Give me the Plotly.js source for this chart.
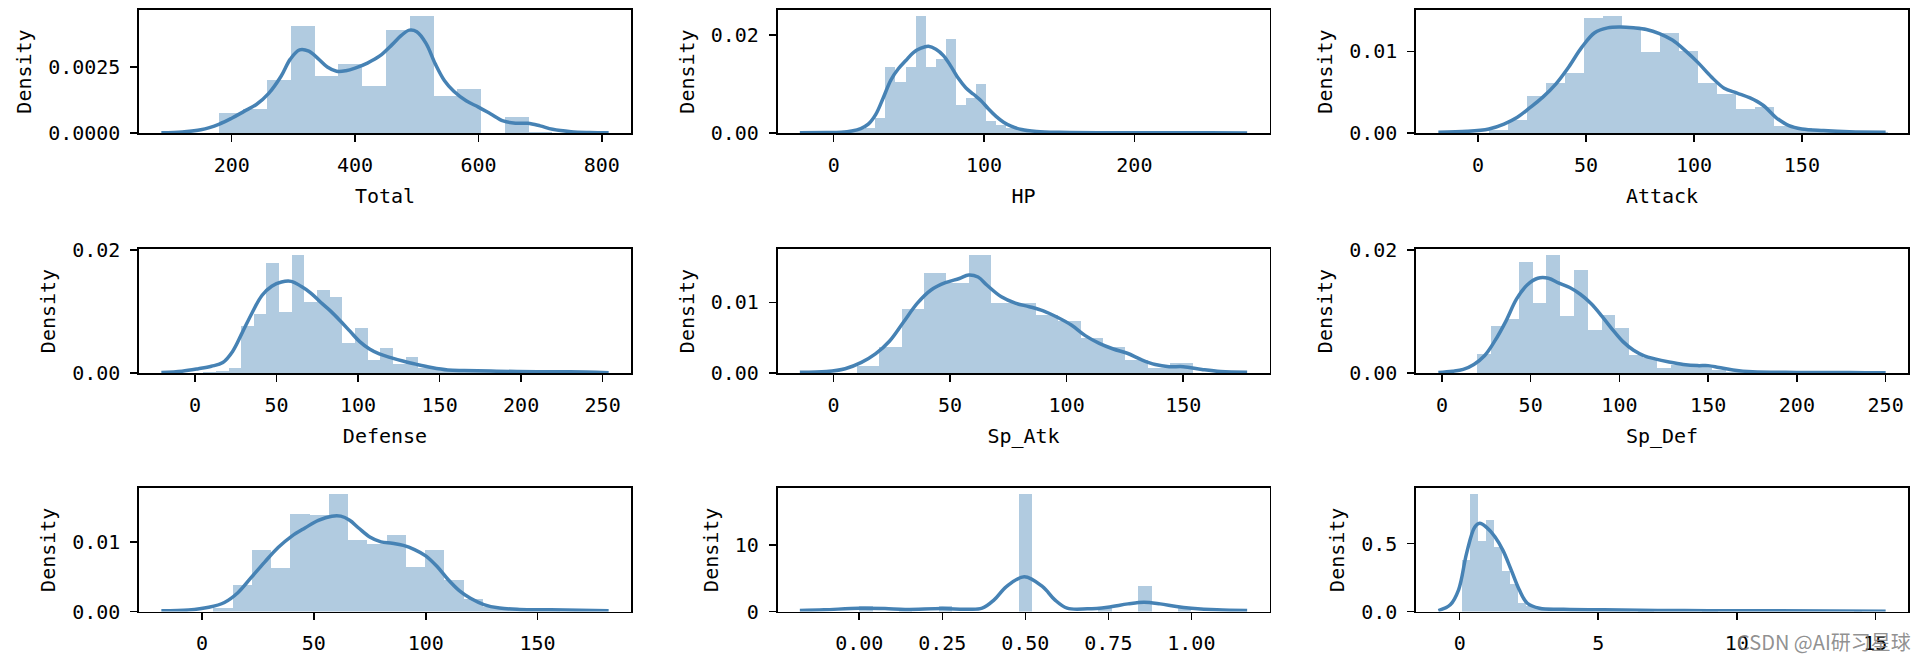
<!DOCTYPE html>
<html><head><meta charset="utf-8">
<script src="https://cdn.plot.ly/plotly-3.0.1.min.js"></script>
<style>html,body{margin:0;padding:0;background:#fff;} #chart{width:1922px;height:660px;}</style>
</head><body><div id="chart"></div>
<script>
// ---------------- data ----------------
// Total
const totalBinStart = 180, totalBinWidth = 38.571;
const totalHist = [0.00075, 0.000925, 0.0020, 0.00406, 0.00215, 0.0026, 0.0018, 0.0039, 0.00444, 0.00141, 0.00165, 0.0, 0.00061, 0.00004];
const totalKdeX = [86, 120, 150, 180, 200, 220, 240, 260, 280, 295, 310, 325, 340, 355, 370, 385, 400, 420, 440, 460, 475, 488, 500, 515, 530, 545, 560, 580, 600, 620, 640, 660, 680, 700, 720, 750, 780, 811];
const totalKdeY = [0.00001, 0.00004, 0.00012, 0.00034, 0.00056, 0.00082, 0.00108, 0.0015, 0.00215, 0.0028, 0.00315, 0.0031, 0.00282, 0.0025, 0.00234, 0.00236, 0.00246, 0.00265, 0.00292, 0.00335, 0.0037, 0.0039, 0.00384, 0.0034, 0.00262, 0.00198, 0.00158, 0.00122, 0.00098, 0.00072, 0.00046, 0.00037, 0.00037, 0.00027, 0.00014, 0.00005, 0.00002, 0.00001];
const totalXTicks = [200, 400, 600, 800];
const totalYTicks = [0, 0.0025];
const totalYText = ['0.0000', '0.0025'];

// HP
const hpBinStart = 1, hpBinWidth = 6.684;
const hpHist = [0.0002, 0.0003, 0.0008, 0.001, 0.0031, 0.01354, 0.01045, 0.01354, 0.0239, 0.01354, 0.0151, 0.0192, 0.00564, 0.00715, 0.0099, 0.0024, 0.0017, 0.001, 0.0006, 0.0004, 0.0003, 0.0002, 0.0001, 0.0001, 0, 0, 0, 0, 0, 0, 0, 0, 0, 0, 0, 0, 0, 0.0002];
const hpKdeX = [-22.5, -5, 5, 12, 18, 23, 28, 33, 38, 43, 48, 53, 58, 63, 68, 73, 78, 83, 88, 93, 98, 103, 108, 113, 118, 125, 135, 150, 180, 220, 250, 275];
const hpKdeY = [0.00003, 0.00008, 0.00015, 0.0004, 0.0009, 0.0018, 0.0038, 0.0072, 0.0108, 0.0131, 0.0148, 0.0164, 0.0173, 0.0177, 0.0171, 0.0158, 0.0136, 0.0111, 0.0092, 0.0079, 0.0066, 0.0049, 0.0034, 0.0022, 0.0014, 0.0007, 0.00032, 0.00014, 0.00005, 0.00003, 0.00005, 0.00001];
const hpXTicks = [0, 100, 200];
const hpYTicks = [0, 0.02];
const hpYText = ['0.00', '0.02'];

// Attack
const atkBinStart = 5, atkBinWidth = 8.81;
const atkHist = [0.0004, 0.0016, 0.00457, 0.00615, 0.00737, 0.0141, 0.01437, 0.013, 0.0099, 0.01223, 0.01, 0.0061, 0.0048, 0.003, 0.0032, 0.0008, 0.0006, 0.0004, 0.0002, 0.0002, 0.0001];
const atkKdeX = [-18.4, -5, 5, 12, 18, 24, 30, 36, 42, 48, 54, 60, 66, 72, 78, 84, 90, 96, 102, 108, 114, 120, 126, 132, 138, 144, 150, 160, 172, 188.8];
const atkKdeY = [0.0001, 0.0002, 0.0005, 0.0011, 0.0019, 0.0031, 0.0044, 0.006, 0.0081, 0.0105, 0.0123, 0.0129, 0.0130, 0.0129, 0.0127, 0.0122, 0.0114, 0.0101, 0.0086, 0.0069, 0.0055, 0.0049, 0.0043, 0.0034, 0.0019, 0.0009, 0.0005, 0.0003, 0.00015, 0.0001];
const atkXTicks = [0, 50, 100, 150];
const atkYTicks = [0, 0.01];
const atkYText = ['0.00', '0.01'];

// Defense
const defBinStart = 5, defBinWidth = 7.759;
const defHist = [0.0002, 0.0004, 0.0008, 0.0076, 0.00954, 0.01796, 0.00992, 0.0192, 0.01147, 0.0135, 0.01233, 0.00482, 0.00724, 0.00204, 0.00413, 0.00145, 0.00257, 0.0008, 0.0006, 0.0004, 0.0004, 0.0002, 0.0001, 0.0001, 0, 0, 0, 0, 0.0003];
const defKdeX = [-20.7, -8, 2, 10, 17, 23, 29, 35, 41, 47, 53, 59, 65, 71, 77, 83, 89, 95, 101, 107, 113, 120, 128, 136, 145, 155, 165, 185, 210, 230, 253.7];
const defKdeY = [0.0001, 0.0003, 0.0007, 0.0011, 0.0017, 0.0035, 0.0066, 0.0098, 0.0126, 0.0141, 0.0148, 0.0149, 0.0141, 0.013, 0.0115, 0.0101, 0.0085, 0.0068, 0.0051, 0.0039, 0.0031, 0.0025, 0.0019, 0.0014, 0.0009, 0.0005, 0.0004, 0.0003, 0.0002, 0.0002, 0.00005];
const defXTicks = [0, 50, 100, 150, 200, 250];
const defYTicks = [0, 0.02];
const defYText = ['0.00', '0.02'];

// Sp_Atk
const spaBinStart = 10, spaBinWidth = 9.6;
const spaHist = [0.00093, 0.0037, 0.00907, 0.01419, 0.01279, 0.01674, 0.00986, 0.00986, 0.00828, 0.00744, 0.005, 0.00363, 0.00186, 0.0007, 0.0014];
const spaKdeX = [-14.4, -3, 5, 12, 18, 24, 30, 36, 42, 48, 54, 58, 62, 66, 72, 78, 84, 90, 96, 102, 108, 114, 120, 126, 132, 138, 144, 150, 158, 166, 177.4];
const spaKdeY = [0.0001, 0.0002, 0.0006, 0.0015, 0.0027, 0.0045, 0.0072, 0.0099, 0.0118, 0.0128, 0.0134, 0.0139, 0.0136, 0.0124, 0.0108, 0.0099, 0.0094, 0.0088, 0.0079, 0.0068, 0.0053, 0.0042, 0.0034, 0.0028, 0.0019, 0.0012, 0.0009, 0.0009, 0.0005, 0.0002, 0.0001];
const spaXTicks = [0, 50, 100, 150];
const spaYTicks = [0, 0.01];
const spaYText = ['0.00', '0.01'];

// Sp_Def
const spdBinStart = 20, spdBinWidth = 7.778;
const spdHist = [0.0031, 0.0076, 0.00884, 0.018, 0.0114, 0.0192, 0.0092, 0.01672, 0.00707, 0.00943, 0.00724, 0.0029, 0.0025, 0.0008, 0.0013, 0.0011, 0.0012, 0.0005, 0.0002, 0.0001, 0.0001, 0, 0, 0, 0, 0, 0.0002];
const spdKdeX = [-2, 6, 12, 18, 24, 30, 36, 42, 48, 54, 60, 66, 72, 78, 84, 90, 96, 102, 108, 114, 120, 128, 136, 144, 150, 156, 164, 175, 200, 230, 250];
const spdKdeY = [0.0001, 0.0003, 0.0006, 0.0014, 0.0028, 0.0053, 0.0084, 0.012, 0.0143, 0.0154, 0.0154, 0.0146, 0.0139, 0.0128, 0.0113, 0.0093, 0.0071, 0.0051, 0.0037, 0.0028, 0.0023, 0.0018, 0.0014, 0.0012, 0.0012, 0.0009, 0.0005, 0.0002, 0.0001, 0.0001, 0.00003];
const spdXTicks = [0, 50, 100, 150, 200, 250];
const spdYTicks = [0, 0.02];
const spdYText = ['0.00', '0.02'];

// Speed
const speBinStart = 5, speBinWidth = 8.611;
const speHist = [0.0005, 0.0038, 0.0088, 0.0063, 0.01405, 0.0138, 0.0169, 0.01024, 0.00976, 0.01095, 0.00643, 0.0088, 0.00452, 0.00176, 0.0007, 0.0003, 0.0003, 0.0002];
const speKdeX = [-18.2, -6, 3, 10, 16, 22, 28, 34, 40, 46, 52, 58, 62, 66, 70, 75, 80, 85, 90, 95, 100, 105, 110, 115, 120, 126, 133, 142, 156, 181.8];
const speKdeY = [0.0001, 0.0002, 0.0006, 0.0013, 0.0027, 0.0049, 0.0071, 0.0092, 0.0108, 0.012, 0.0131, 0.0137, 0.0137, 0.0131, 0.0120, 0.0107, 0.0100, 0.0098, 0.0095, 0.0089, 0.0080, 0.0065, 0.0046, 0.0030, 0.0019, 0.0010, 0.0005, 0.0003, 0.00024, 0.0001];
const speXTicks = [0, 50, 100, 150];
const speYTicks = [0, 0.01];
const speYText = ['0.00', '0.01'];

// Pr_Male
const pmBinStart = 0, pmBinWidth = 0.04;
const pmHist = [0.85, 0, 0, 0.35, 0, 0, 0.85, 0, 0, 0, 0, 0, 17.75, 0, 0, 0, 0, 0, 0.5, 0, 0, 3.9, 0, 0, 0.75];
const pmKdeX = [-0.179, -0.106, 0, 0.077, 0.138, 0.25, 0.32, 0.37, 0.406, 0.443, 0.497, 0.552, 0.589, 0.626, 0.687, 0.748, 0.809, 0.857, 0.906, 0.955, 1.0, 1.077, 1.168];
const pmKdeY = [0.15, 0.25, 0.5, 0.45, 0.3, 0.45, 0.35, 0.5, 1.75, 3.75, 5.25, 3.75, 1.75, 0.5, 0.4, 0.65, 1.15, 1.4, 1.15, 0.75, 0.5, 0.25, 0.15];
const pmXTicks = [0, 0.25, 0.5, 0.75, 1.0];
const pmXText = ['0.00', '0.25', '0.50', '0.75', '1.00'];
const pmYTicks = [0, 10];
const pmYText = ['0', '10'];

// Height_m
const htBinStart = 0.1, htBinWidth = 0.288;
const htHist = [0.38, 0.866, 0.52, 0.676, 0.476, 0.3, 0.2, 0.06, 0.04, 0.03, 0.02, 0.015, 0.01, 0.01, 0.005, 0.005, 0.005, 0.005, 0.005, 0.005, 0.005, 0, 0.005, 0.005, 0, 0, 0, 0, 0, 0, 0.005, 0.005, 0, 0, 0, 0, 0, 0, 0, 0, 0, 0, 0, 0, 0, 0, 0, 0, 0, 0.005];
const htKdeX = [-0.77, -0.34, -0.04, 0.25, 0.54, 0.72, 0.98, 1.27, 1.56, 1.86, 2.15, 2.44, 2.88, 3.75, 5.2, 8.1, 11.1, 15.37];
const htKdeY = [0.007, 0.05, 0.16, 0.43, 0.62, 0.65, 0.617, 0.55, 0.45, 0.305, 0.16, 0.061, 0.024, 0.017, 0.012, 0.007, 0.005, 0.002];
const htXTicks = [0, 5, 10, 15];
const htYTicks = [0, 0.5];
const htYText = ['0.0', '0.5'];

const xTitles = ['Total', 'HP', 'Attack', 'Defense', 'Sp_Atk', 'Sp_Def', '', '', ''];
const yTitle = 'Density';
const watermark = 'CSDN @AI研习星球';

// ---------------- layout ----------------
const W = 1922, H = 660;
const colPx = [[139, 631], [777.5, 1269.5], [1416, 1908]];
const rowPx = [[10, 133], [249, 373], [488, 611.5]];
const FONT = "'DejaVu Sans Mono', monospace";
const FS = 20;

const panels = [
  {hist: totalHist, start: totalBinStart, width: totalBinWidth, kx: totalKdeX, ky: totalKdeY, xt: totalXTicks, yt: totalYTicks, ytt: totalYText},
  {hist: hpHist, start: hpBinStart, width: hpBinWidth, kx: hpKdeX, ky: hpKdeY, xt: hpXTicks, yt: hpYTicks, ytt: hpYText},
  {hist: atkHist, start: atkBinStart, width: atkBinWidth, kx: atkKdeX, ky: atkKdeY, xt: atkXTicks, yt: atkYTicks, ytt: atkYText},
  {hist: defHist, start: defBinStart, width: defBinWidth, kx: defKdeX, ky: defKdeY, xt: defXTicks, yt: defYTicks, ytt: defYText},
  {hist: spaHist, start: spaBinStart, width: spaBinWidth, kx: spaKdeX, ky: spaKdeY, xt: spaXTicks, yt: spaYTicks, ytt: spaYText},
  {hist: spdHist, start: spdBinStart, width: spdBinWidth, kx: spdKdeX, ky: spdKdeY, xt: spdXTicks, yt: spdYTicks, ytt: spdYText},
  {hist: speHist, start: speBinStart, width: speBinWidth, kx: speKdeX, ky: speKdeY, xt: speXTicks, yt: speYTicks, ytt: speYText},
  {hist: pmHist, start: pmBinStart, width: pmBinWidth, kx: pmKdeX, ky: pmKdeY, xt: pmXTicks, xtt: pmXText, yt: pmYTicks, ytt: pmYText},
  {hist: htHist, start: htBinStart, width: htBinWidth, kx: htKdeX, ky: htKdeY, xt: htXTicks, yt: htYTicks, ytt: htYText}
];

const common = {
  showline: true, linecolor: 'black', linewidth: 1.6, mirror: true,
  ticks: 'outside', ticklen: 7, tickwidth: 1.6, tickcolor: 'black',
  showgrid: false, zeroline: false, automargin: false, fixedrange: true,
  tickfont: {family: FONT, size: FS, color: 'black'}, ticklabelstandoff: 6
};

const traces = [];
const layout = {
  width: W, height: H, margin: {l: 0, r: 0, t: 0, b: 0},
  showlegend: false, paper_bgcolor: 'white', plot_bgcolor: 'white',
  barmode: 'overlay', bargap: 0,
  annotations: [{
    xref: 'paper', yref: 'paper', x: 1824 / W, y: 1 - 641 / H, xanchor: 'center', yanchor: 'middle',
    text: watermark, showarrow: false,
    font: {family: "'Noto Sans CJK SC', sans-serif", size: 20, color: 'rgba(125,125,125,0.85)'}
  }]
};

panels.forEach((p, i) => {
  const n = i + 1, sfx = n === 1 ? '' : String(n);
  const centers = p.hist.map((_, k) => p.start + (k + 0.5) * p.width);
  traces.push({type: 'bar', x: centers, y: p.hist, width: p.width, xaxis: 'x' + sfx, yaxis: 'y' + sfx,
    marker: {color: 'rgba(70,130,180,0.42)', line: {width: 0}}, hoverinfo: 'skip'});
  traces.push({type: 'scatter', mode: 'lines', x: p.kx, y: p.ky, xaxis: 'x' + sfx, yaxis: 'y' + sfx,
    line: {color: '#4682b4', width: 3.5, shape: 'spline', smoothing: 1}, hoverinfo: 'skip'});
  const r = Math.floor(i / 3), c = i % 3;
  const xmin = Math.min(...p.kx), xmax = Math.max(...p.kx), span = xmax - xmin;
  const ymax = Math.max(...p.hist, ...p.ky) * 1.05;
  const xa = Object.assign({}, common, {
    domain: [colPx[c][0] / W, colPx[c][1] / W], anchor: 'y' + sfx,
    range: [xmin - 0.05 * span, xmax + 0.05 * span], tickvals: p.xt,
    title: {text: xTitles[i], font: {family: FONT, size: FS, color: 'black'}, standoff: 13}
  });
  if (p.xtt) xa.ticktext = p.xtt;
  const ya = Object.assign({}, common, {
    domain: [1 - rowPx[r][1] / H, 1 - rowPx[r][0] / H], anchor: 'x' + sfx,
    range: [0, ymax], tickvals: p.yt, ticktext: p.ytt,
    title: {text: yTitle, font: {family: FONT, size: FS, color: 'black'}, standoff: 11}
  });
  layout['xaxis' + sfx] = xa;
  layout['yaxis' + sfx] = ya;
});

Plotly.newPlot('chart', traces, layout, {staticPlot: true, displayModeBar: false});
</script>
</body></html>
